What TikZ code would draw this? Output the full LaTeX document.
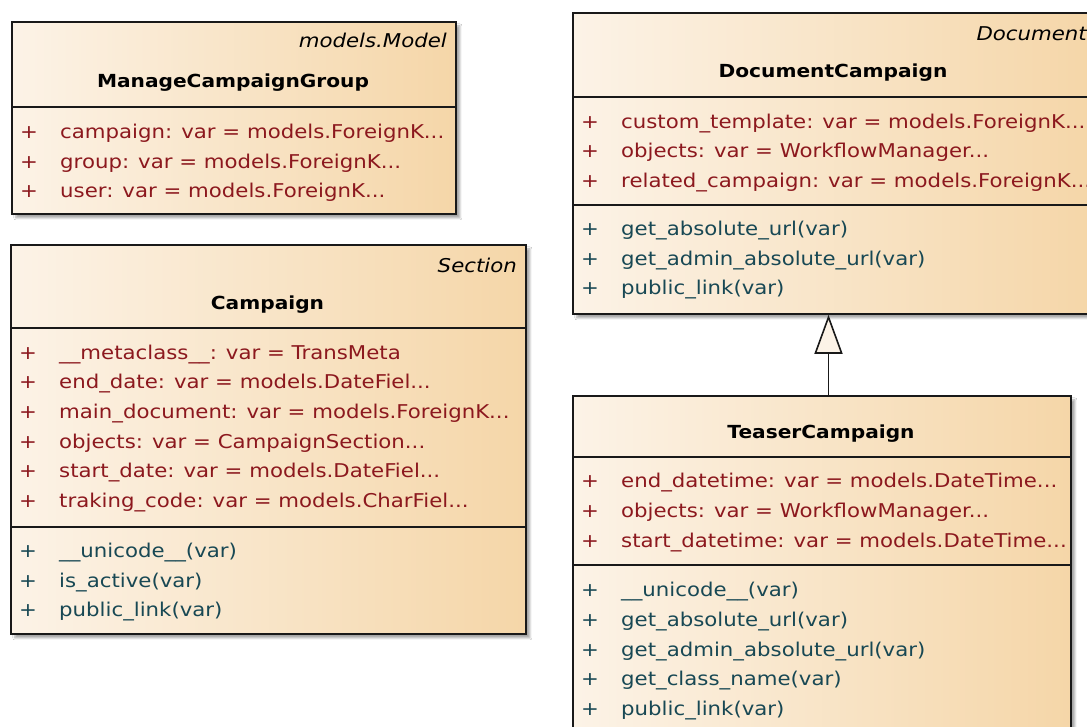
\documentclass[tikz,border=0pt]{standalone}
\usepackage{fontspec}
\setmainfont{DejaVu Sans}[FakeStretch=1.12]
\usetikzlibrary{arrows.meta,shadows.blur}

\definecolor{fillL}{RGB}{252,243,231}
\definecolor{fillR}{RGB}{245,214,168}
\definecolor{attrred}{RGB}{140,24,30}
\definecolor{opteal}{RGB}{24,72,84}
\definecolor{edge}{RGB}{25,25,25}

\tikzset{
  classbox/.style={draw=edge, line width=1.8pt, inner sep=0pt, anchor=north west,
    left color=fillL, right color=fillR,
    blur shadow={shadow xshift=4pt, shadow yshift=-4pt, shadow blur steps=6,
      shadow blur radius=2pt, shadow opacity=35}},
  divider/.style={draw=edge, line width=1.8pt},
  rowfont/.style={font=\fontsize{19}{22}\selectfont},
  plusmark/.style={rowfont, anchor=base, inner sep=0pt},
  rowtext/.style={rowfont, anchor=base west, inner sep=0pt},
  attr/.style={text=attrred},
  oper/.style={text=opteal},
  classname/.style={font=\fontsize{18}{21}\selectfont\bfseries, anchor=base, inner sep=0pt},
  stereo/.style={font=\fontsize{19}{22}\selectfont\itshape, anchor=base east, inner sep=0pt},
  inherit/.style={draw=edge, line width=1.8pt,
    -{Triangle[open, length=39pt, width=28pt, line width=1.6pt, fill=fillL]}}
}

% one member line: marker and text
\newcommand\umlrow[5]{%
  \node[plusmark,#4] (#1p) at (#2+18,#3) {+};
  \node[rowtext,#4] (#1t) at (#2+49,#3) {#5};}

\begin{document}
\begin{tikzpicture}[x=1pt,y=-1pt]
\clip (0,0) rectangle (1087,726);
\fill[white] (0,0) rectangle (1087,726);

% ---------------- ManageCampaignGroup ----------------
\node[classbox, minimum width=444pt, minimum height=192pt] (mcg) at (11,21) {};
\node[stereo] (mcgs) at (447,47) {models.Model};
\node[classname] (mcgn) at (233,87) {ManageCampaignGroup};
\coordinate (mcgd) at (0,107);
\draw[divider] (mcg.west |- mcgd) -- (mcg.east |- mcgd);
\umlrow{mcga1}{11}{138}{attr}{campaign: var = models.ForeignK...}
\umlrow{mcga2}{11}{168}{attr}{group: var = models.ForeignK...}
\umlrow{mcga3}{11}{197}{attr}{user: var = models.ForeignK...}

% ---------------- Campaign ----------------
\node[classbox, minimum width=515pt, minimum height=389pt] (camp) at (10,244) {};
\node[stereo] (camps) at (517,272) {Section};
\node[classname] (campn) at (267.5,309) {Campaign};
\coordinate (campd1) at (0,328);
\coordinate (campd2) at (0,527);
\draw[divider] (camp.west |- campd1) -- (camp.east |- campd1);
\draw[divider] (camp.west |- campd2) -- (camp.east |- campd2);
\umlrow{campa1}{10}{359}{attr}{\_\_metaclass\_\_: var = TransMeta}
\umlrow{campa2}{10}{388.5}{attr}{end\_date: var = models.DateFiel...}
\umlrow{campa3}{10}{418}{attr}{main\_document: var = models.ForeignK...}
\umlrow{campa4}{10}{448}{attr}{objects: var = CampaignSection...}
\umlrow{campa5}{10}{477.5}{attr}{start\_date: var = models.DateFiel...}
\umlrow{campa6}{10}{507}{attr}{traking\_code: var = models.CharFiel...}
\umlrow{campo1}{10}{557}{oper}{\_\_unicode\_\_(var)}
\umlrow{campo2}{10}{587}{oper}{is\_active(var)}
\umlrow{campo3}{10}{616.5}{oper}{public\_link(var)}

% ---------------- DocumentCampaign ----------------
\node[classbox, minimum width=522pt, minimum height=301pt] (doc) at (572,12) {};
\node[stereo] (docs) at (1087,40) {Document};
\node[classname] (docn) at (833,77) {DocumentCampaign};
\coordinate (docd1) at (0,97);
\coordinate (docd2) at (0,205);
\draw[divider] (doc.west |- docd1) -- (doc.east |- docd1);
\draw[divider] (doc.west |- docd2) -- (doc.east |- docd2);
\umlrow{doca1}{572}{128}{attr}{custom\_template: var = models.ForeignK...}
\umlrow{doca2}{572}{157.5}{attr}{objects: var = WorkflowManager...}
\umlrow{doca3}{572}{187}{attr}{related\_campaign: var = models.ForeignK...}
\umlrow{doco1}{572}{235.5}{oper}{get\_absolute\_url(var)}
\umlrow{doco2}{572}{265}{oper}{get\_admin\_absolute\_url(var)}
\umlrow{doco3}{572}{294.5}{oper}{public\_link(var)}

% ---------------- TeaserCampaign ----------------
\node[classbox, minimum width=498pt, minimum height=345pt] (teas) at (572,395) {};
\node[classname] (teasn) at (821,438) {TeaserCampaign};
\coordinate (teasd1) at (0,457);
\coordinate (teasd2) at (0,565);
\draw[divider] (teas.west |- teasd1) -- (teas.east |- teasd1);
\draw[divider] (teas.west |- teasd2) -- (teas.east |- teasd2);
\umlrow{teasa1}{572}{487}{attr}{end\_datetime: var = models.DateTime...}
\umlrow{teasa2}{572}{517}{attr}{objects: var = WorkflowManager...}
\umlrow{teasa3}{572}{547}{attr}{start\_datetime: var = models.DateTime...}
\umlrow{teaso1}{572}{596}{oper}{\_\_unicode\_\_(var)}
\umlrow{teaso2}{572}{626}{oper}{get\_absolute\_url(var)}
\umlrow{teaso3}{572}{656}{oper}{get\_admin\_absolute\_url(var)}
\umlrow{teaso4}{572}{685.5}{oper}{get\_class\_name(var)}
\umlrow{teaso5}{572}{715}{oper}{public\_link(var)}

% ---------------- generalization ----------------
\coordinate (genx) at (828.5,0);
\draw[inherit] (teas.north -| genx) -- (doc.south -| genx);
\end{tikzpicture}
\end{document}
